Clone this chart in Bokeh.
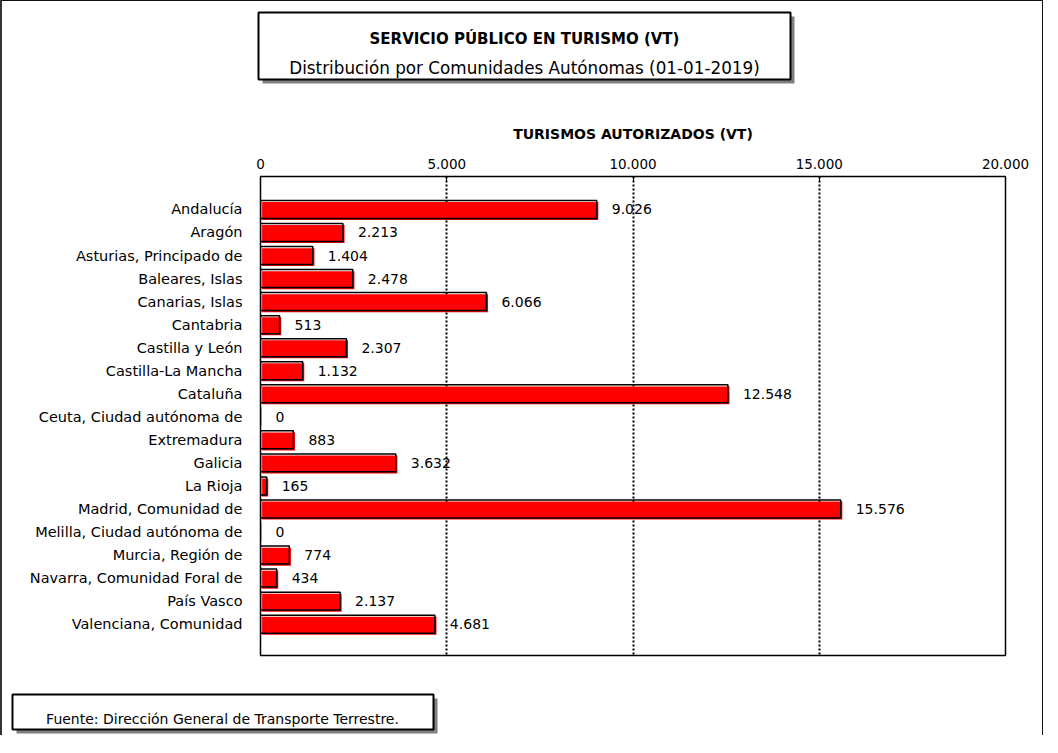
from bokeh.plotting import figure
from bokeh.layouts import column
from bokeh.models import Range1d, FixedTicker, ColumnDataSource
from bokeh.core.properties import value
from bokeh.embed import file_html
from bokeh.resources import INLINE

# ---------------- data ----------------
regions = [
    "Andalucía", "Aragón", "Asturias, Principado de", "Baleares, Islas",
    "Canarias, Islas", "Cantabria", "Castilla y León", "Castilla-La Mancha",
    "Cataluña", "Ceuta, Ciudad autónoma de", "Extremadura", "Galicia",
    "La Rioja", "Madrid, Comunidad de", "Melilla, Ciudad autónoma de",
    "Murcia, Región de", "Navarra, Comunidad Foral de", "País Vasco",
    "Valenciana, Comunidad",
]
vehicles = [9026, 2213, 1404, 2478, 6066, 513, 2307, 1132, 12548, 0,
            883, 3632, 165, 15576, 0, 774, 434, 2137, 4681]
tick_values = [0, 5000, 10000, 15000, 20000]
tick_labels = ["0", "5.000", "10.000", "15.000", "20.000"]
grid_values = [5000, 10000, 15000]
title_text = "SERVICIO PÚBLICO EN TURISMO (VT)"
subtitle_text = "Distribución por Comunidades Autónomas (01-01-2019)"
axis_title = "TURISMOS AUTORIZADOS (VT)"
source_text = "Fuente: Dirección General de Transporte Terrestre."

# ---------------- layout constants (pixels) ----------------
FONT = "DejaVu Sans"
W = 1040
TOP_H, MAIN_H, FOOT_H = 94, 565, 75
FL, FR = 258, 1003            # main frame left/right
FT, FB = 81, 560              # main frame top/bottom inside main figure
X_START, X_END = 0, 20000
Y_TOP, Y_BOTTOM = -1.43, len(regions) - 1 + 1.36
BAR_H = 0.78
x_per_px = (X_END - X_START) / (FR - FL)
y_per_px = (Y_BOTTOM - Y_TOP) / (FB - FT)
SHIFT = 1.6  # px offset of the red fill


def panel(h):
    """A figure whose frame covers its whole canvas, in pixel units (y down)."""
    f = figure(width=W, height=h, output_backend="svg", toolbar_location=None,
               x_range=Range1d(0, W), y_range=Range1d(h, 0),
               x_axis_location=None, y_axis_location=None, min_border=0,
               frame_align=False)
    f.grid.visible = False
    f.outline_line_color = None
    f.background_fill_color = "white"
    f.border_fill_color = "white"
    return f


def shadow_box(f, l, r, t, b, off):
    f.quad(left=[l + off], right=[r + off], top=[t + off], bottom=[b + off],
           fill_color="#808080", line_color=None)
    f.quad(left=[l], right=[r], top=[t], bottom=[b],
           fill_color="white", line_color="black", line_width=2)


# ---------------- title panel ----------------
top = panel(TOP_H)
shadow_box(top, 256, 788, 11, 78, 4)
top.text(x=[522], y=[37], text=[title_text], text_align="center",
         text_baseline="alphabetic", text_font=value(FONT),
         text_font_size="15px", text_font_style="bold", text_color="black")
top.text(x=[522], y=[66.5], text=[subtitle_text], text_align="center",
         text_baseline="alphabetic", text_font=value(FONT),
         text_font_size="16.8px", text_color="black")

# ---------------- main chart ----------------
idx = list(range(len(regions)))
src = ColumnDataSource(dict(
    y=idx,
    y_fill=[i + SHIFT * y_per_px for i in idx],
    v=vehicles,
    v_fill=[v + SHIFT * x_per_px for v in vehicles],
    left_fill=[SHIFT * x_per_px] * len(idx),
    lbl=[f"{v:,}".replace(",", ".") for v in vehicles],
))

p = figure(width=W, height=MAIN_H, output_backend="svg", toolbar_location=None,
           x_range=Range1d(X_START, X_END), y_range=Range1d(Y_BOTTOM, Y_TOP),
           x_axis_location="above", frame_align=False,
           min_border_left=FL, min_border_right=W - FR,
           min_border_top=FT, min_border_bottom=MAIN_H - FB)
p.background_fill_color = "white"
p.border_fill_color = "white"
p.outline_line_color = "black"
p.outline_line_width = 1.5

p.ygrid.visible = False
p.xgrid.ticker = FixedTicker(ticks=grid_values)
p.xgrid.grid_line_color = "black"
p.xgrid.grid_line_width = 2
p.xgrid.grid_line_dash = "2 2"

xa = p.xaxis[0]
xa.ticker = FixedTicker(ticks=tick_values)
xa.major_label_overrides = dict(zip(tick_values, tick_labels))
xa.axis_line_color = None
xa.major_tick_in = 5
xa.major_tick_out = 0
xa.major_tick_line_color = "black"
xa.minor_tick_line_color = None
xa.major_label_standoff = 8
xa.major_label_text_font = FONT
xa.major_label_text_font_size = "13.5px"
xa.major_label_text_color = "black"
xa.axis_label = axis_title
xa.axis_label_text_font = FONT
xa.axis_label_text_font_size = "14px"
xa.axis_label_text_font_style = "bold"
xa.axis_label_text_color = "black"
xa.axis_label_standoff = 14

ya = p.yaxis[0]
ya.ticker = FixedTicker(ticks=idx)
ya.major_label_overrides = dict(zip(idx, regions))
ya.axis_line_color = None
ya.major_tick_line_color = None
ya.minor_tick_line_color = None
ya.major_label_standoff = 12
ya.major_label_text_font = FONT
ya.major_label_text_font_size = "14.5px"
ya.major_label_text_color = "black"

p.hbar(y="y_fill", left="left_fill", right="v_fill", height=BAR_H, source=src,
       fill_color="#FF0000", line_color=None)
p.hbar(y="y", left=0, right="v", height=BAR_H, source=src,
       fill_color=None, line_color="black", line_width=1.5)
p.text(x="v", y="y", text="lbl", source=src, x_offset=15,
       text_baseline="middle", text_align="left",
       text_font=value(FONT), text_font_size="14px", text_color="black")

# ---------------- footer panel ----------------
foot = panel(FOOT_H)
shadow_box(foot, 10, 431, 34, 69, 4)
foot.text(x=[220], y=[58], text=[source_text], text_align="center",
          text_baseline="alphabetic", text_font=value(FONT),
          text_font_size="14px", text_color="black")

layout = column(top, p, foot, spacing=0,
                styles={"border-top": "1px solid #111111",
                        "border-left": "2px solid #333333",
                        "border-right": "1px solid #111111"})

open("out.html", "w").write(file_html(layout, INLINE))
